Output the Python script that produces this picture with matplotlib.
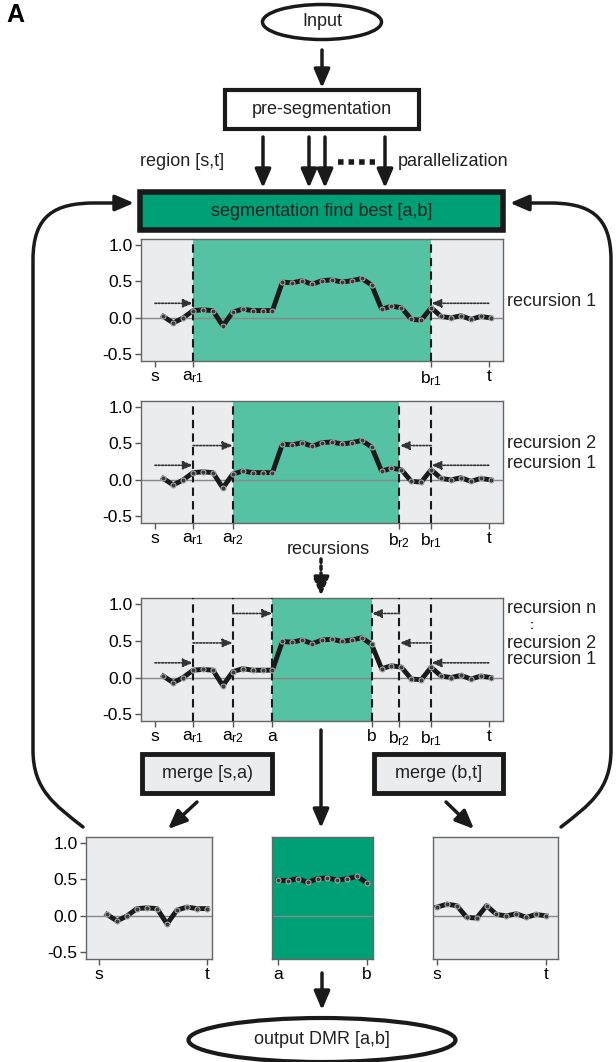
import numpy as np
import matplotlib
matplotlib.use('Agg')
import matplotlib.pyplot as plt
from matplotlib.patches import Rectangle, Ellipse, FancyArrowPatch
from matplotlib.path import Path

plt.rcParams['font.family'] = ['Liberation Sans', 'DejaVu Sans']
plt.rcParams['mathtext.fontset'] = 'custom'
plt.rcParams['mathtext.rm'] = 'Liberation Sans'

W, H = 616, 1062

# signal along the region [s,t] (one value per CpG)
values = [0.02, -0.07, 0.0, 0.10, 0.11, 0.10, -0.11, 0.08, 0.12, 0.10, 0.10, 0.10,
          0.49, 0.48, 0.51, 0.46, 0.51, 0.52, 0.49, 0.51, 0.54, 0.45,
          0.12, 0.16, 0.14, -0.02, -0.03, 0.14, 0.02, 0.0, 0.03, -0.02, 0.02, 0.0]

# breakpoints, as positions along the region
cut_names = ['s', 'a_r1', 'a_r2', 'a', 'b', 'b_r2', 'b_r1', 't']
cut_pos = [-0.84, 3, 7, 11, 21, 23.8, 27, 32.8]
cut_labels = ['s', r'$\mathrm{a_{r1}}$', r'$\mathrm{a_{r2}}$', 'a', 'b',
              r'$\mathrm{b_{r2}}$', r'$\mathrm{b_{r1}}$', 't']

# recursion arrows: (label, height, left from->to, right from->to)
recursions = [('recursion 1', 0.2, ('s', 'a_r1'), ('t', 'b_r1')),
              ('recursion 2', 0.47, ('a_r1', 'a_r2'), ('b_r1', 'b_r2')),
              ('recursion n', 0.87, ('a_r2', 'a'), ('b_r2', 'b'))]

# the three sub-regions after the final split
left_idx = list(range(0, 11))
mid_idx = list(range(12, 22))
right_idx = list(range(22, 34))

GRAY = '#ebeced'
TEAL = '#55c3a3'
GREEN = '#00a077'
FS = 13
cut = dict(zip(cut_names, cut_pos))
lab = dict(zip(cut_names, cut_labels))
pos = np.arange(len(values))
vals = np.array(values)

fig = plt.figure(figsize=(W / 100, H / 100), dpi=100)
ov = fig.add_axes([0, 0, 1, 1])
ov.set_xlim(0, W)
ov.set_ylim(H, 0)
ov.axis('off')


def px_axes(x0, y0, x1, y1):
    return fig.add_axes([x0 / W, 1 - y1 / H, (x1 - x0) / W, (y1 - y0) / H])


def arrow(x0, y0, x1, y1, lw=2.5, ms=16):
    ov.add_patch(FancyArrowPatch((x0, y0), (x1, y1), arrowstyle='-|>,head_length=0.7,head_width=0.3',
                                 mutation_scale=ms, lw=lw, color='#1a1a1a', shrinkA=0, shrinkB=0))


def box(x0, y0, x1, y1, text, fc, lw=3.5):
    ov.add_patch(Rectangle((x0, y0), x1 - x0, y1 - y0, fc=fc, ec='#1a1a1a', lw=lw))
    ov.text((x0 + x1) / 2, (y0 + y1) / 2, text, ha='center', va='center', fontsize=FS, color='#222')


def style(ax, xlim, yticks=True):
    ax.set_xlim(*xlim)
    ax.set_ylim(-0.59, 1.08)
    for sp in ax.spines.values():
        sp.set_color('#666')
        sp.set_linewidth(1)
    ax.tick_params(length=4, width=1, color='#555', labelsize=12.5, pad=2)
    if yticks:
        ax.set_yticks([-0.5, 0, 0.5, 1.0])
        ax.set_yticklabels(['-0.5', '0.0', '0.5', '1.0'])
    else:
        ax.set_yticks([])
    ax.axhline(0, color='#888', lw=1, zorder=2)


def draw_series(ax, idx):
    ax.plot(pos[idx], vals[idx], color='#1a1a1a', lw=3.5, marker='o', ms=3.6,
            mfc='#3a3a3a', mec='#a8a8a8', mew=0.8, zorder=4)


# --- flow chart on top ---
ov.text(6, 15, 'A', fontsize=18, weight='bold', va='center', ha='left')
ov.add_patch(Ellipse((322, 22), 119, 35, fc='white', ec='#1a1a1a', lw=2.5))
ov.text(322, 22, 'Input', ha='center', va='center', fontsize=FS, color='#222')
arrow(322, 50, 322, 88)
box(225, 90, 419, 129, 'pre-segmentation', 'white', lw=3)
for x in [263, 309, 325, 385]:
    arrow(x, 137, x, 188)
ov.plot([338, 375], [162, 162], color='#1a1a1a', lw=4, ls=(0, (1, 0.9)), solid_capstyle='butt')
ov.text(224, 162, 'region [s,t]', ha='right', va='center', fontsize=FS, color='#222')
ov.text(398, 162, 'parallelization', ha='left', va='center', fontsize=FS, color='#222')
box(140, 192, 503, 230, 'segmentation find best [a,b]', GREEN, lw=4)

# --- recursion panels ---
panels = [((239, 361), ('a_r1', 'b_r1'), ['a_r1', 'b_r1'], 1),
          ((401, 523), ('a_r2', 'b_r2'), ['a_r1', 'a_r2', 'b_r2', 'b_r1'], 2),
          ((598, 721), ('a', 'b'), ['a_r1', 'a_r2', 'a', 'b', 'b_r2', 'b_r1'], 3)]

for (y0, y1), (lo, hi), cuts, nrec in panels:
    ax = px_axes(141, y0, 503, y1)
    ax.set_facecolor(GRAY)
    style(ax, (-2.25, 34.24))
    ax.axvspan(cut[lo], cut[hi], color=TEAL, lw=0, zorder=1)
    for c in cuts:
        ax.axvline(cut[c], color='#1a1a1a', lw=1.5, ls=(0, (4, 2.5)), zorder=3)
    draw_series(ax, list(pos))
    ticks = ['s'] + cuts + ['t']
    ax.set_xticks([cut[c] for c in ticks])
    ax.set_xticklabels([lab[c] for c in ticks])
    for name, yv, (l0, l1), (r0, r1) in recursions[:nrec]:
        for p0, p1 in [(l0, l1), (r0, r1)]:
            ax.annotate('', xy=(cut[p1], yv), xytext=(cut[p0], yv),
                        arrowprops=dict(arrowstyle='-|>,head_length=0.6,head_width=0.25', color='#333',
                                        lw=1.2, ls=(0, (1, 1)), mutation_scale=10, shrinkA=0, shrinkB=0),
                        zorder=5)
    trans = ax.get_yaxis_transform()
    if nrec == 1:
        ax.text(1.01, 0.22, 'recursion 1', transform=trans, fontsize=FS, va='center', color='#222')
    elif nrec == 2:
        ax.text(1.01, 0.5, 'recursion 2', transform=trans, fontsize=FS, va='center', color='#222')
        ax.text(1.01, 0.23, 'recursion 1', transform=trans, fontsize=FS, va='center', color='#222')
    else:
        ax.text(1.01, 0.94, 'recursion n', transform=trans, fontsize=FS, va='center', color='#222')
        ax.text(1.075, 0.695, ':', transform=trans, fontsize=9, weight='bold', va='center', color='#222')
        ax.text(1.01, 0.46, 'recursion 2', transform=trans, fontsize=FS, va='center', color='#222')
        ax.text(1.01, 0.25, 'recursion 1', transform=trans, fontsize=FS, va='center', color='#222')

# dotted "recursions" arrow between panel 2 and 3
ov.text(328, 549, 'recursions', ha='center', va='center', fontsize=FS, color='#222')
ov.add_patch(FancyArrowPatch((321, 559), (321, 596), arrowstyle='-|>,head_length=0.7,head_width=0.3',
                             mutation_scale=16, lw=2.5, ls=(0, (1, 1)), color='#1a1a1a', shrinkA=0, shrinkB=0))

# merges and final arrows
box(142, 754, 272, 793, 'merge [s,a)', GRAY)
box(374, 754, 503, 793, 'merge (b,t]', GRAY)
arrow(321, 730, 321, 828)
arrow(197, 802, 168, 829)
arrow(446, 802, 474, 829)
arrow(322, 973, 322, 1010)
ov.add_patch(Ellipse((322, 1040), 267, 44, fc='white', ec='#1a1a1a', lw=3))
ov.text(322, 1040, 'output DMR [a,b]', ha='center', va='center', fontsize=FS, color='#222')

# loops back to the segmentation step
for sgn in [1, -1]:
    def mx(x):
        return x if sgn == 1 else 644 - x
    verts = [(mx(83), 827), (mx(55), 805), (mx(33), 790), (mx(33), 750), (mx(33), 260),
             (mx(33), 215), (mx(55), 203), (mx(95), 203), (mx(134), 203)]
    codes = [Path.MOVETO, Path.CURVE4, Path.CURVE4, Path.CURVE4, Path.LINETO,
             Path.CURVE4, Path.CURVE4, Path.CURVE4, Path.LINETO]
    ov.add_patch(FancyArrowPatch(path=Path(verts, codes), arrowstyle='-|>,head_length=0.7,head_width=0.3',
                                 mutation_scale=16, lw=2.5, color='#1a1a1a'))

# --- final sub-regions ---
axl = px_axes(86, 837, 212, 959)
axl.set_facecolor(GRAY)
style(axl, (-2.1, 10.5))
draw_series(axl, left_idx)
axl.set_xticks([cut['s'], left_idx[-1]])
axl.set_xticklabels(['s', 't'])

axm = px_axes(272, 837, 373, 959)
axm.set_facecolor(GREEN)
style(axm, (mid_idx[0] - 0.6, mid_idx[-1] + 0.6), yticks=False)
draw_series(axm, mid_idx)
axm.set_xticks([mid_idx[0], mid_idx[-1]])
axm.set_xticklabels(['a', 'b'])

axr = px_axes(433, 837, 558, 959)
axr.set_facecolor(GRAY)
style(axr, (right_idx[0] - 0.4, right_idx[-1] + 1.2), yticks=False)
draw_series(axr, right_idx)
axr.set_xticks([right_idx[0], right_idx[-1]])
axr.set_xticklabels(['s', 't'])

fig.savefig('out.png', dpi=100)
